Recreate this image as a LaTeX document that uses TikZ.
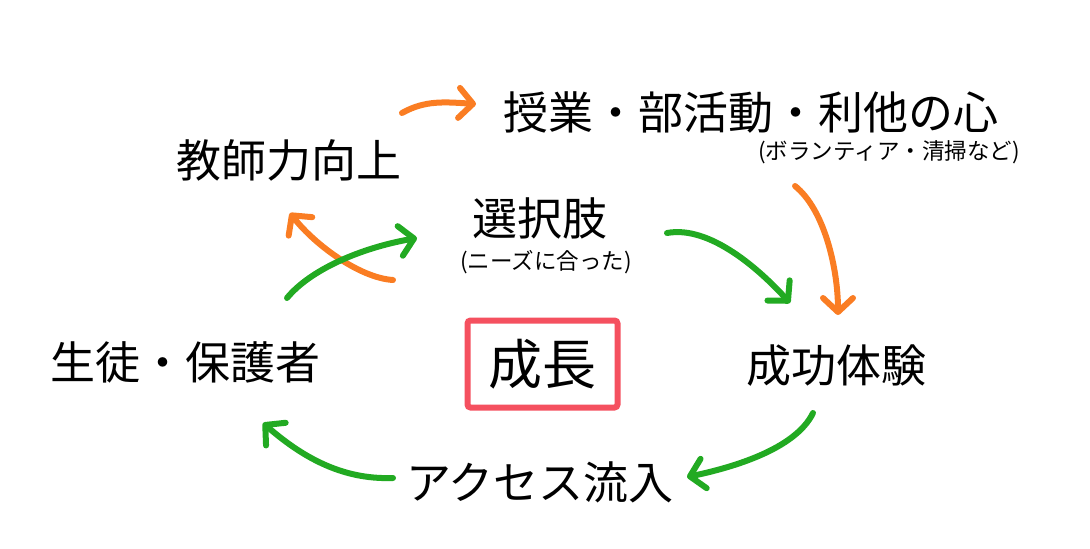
\documentclass[tikz,border=0pt]{standalone}
\usepackage{fontspec}
\newfontfamily\jp{Noto Sans CJK JP}
\usetikzlibrary{arrows.meta}
\definecolor{orng}{RGB}{250,125,35}
\definecolor{grn}{RGB}{34,170,34}
\definecolor{boxred}{RGB}{245,80,95}
\begin{document}
\begin{tikzpicture}[x=1pt,y=-1pt,
  lbl/.style={inner sep=0pt,font=\jp\fontsize{45}{50}\selectfont},
  sub/.style={inner sep=0pt,font=\jp\fontsize{22.5}{26}\selectfont},
  arr/.style={line width=6pt,line cap=round,line join=round,-{Straight Barb[length=14pt,width=30pt,round]}},
  oa/.style={arr,draw=orng},
  ga/.style={arr,draw=grn}]
\useasboundingbox (0,0) rectangle (1090,549);
\node[lbl] (kyoshi) at (289,160) {教師力向上};
\node[lbl] (jugyo) at (751,112) {授業・部活動・利他の心};
\node[sub] (vol) at (889,152) {(ボランティア・清掃など)};
\node[lbl] (sentaku) at (540,218) {選択肢};
\node[sub] (needs) at (546,262) {(ニーズに合った)};
\node[lbl] (seito) at (185,362) {生徒・保護者};
\node[inner sep=0pt,font=\jp\fontsize{54}{60}\selectfont] (seicho) at (542,364) {成長};
\node[draw=boxred,line width=6pt,rounded corners=3pt,minimum width=150pt,minimum height=87pt] (box) at (542.5,364) {};
\node[lbl] (seiko) at (836,366) {成功体験};
\node[lbl] (access) at (540,482) {アクセス流入};
% arrow end points
\coordinate (a1s) at (402,113); \coordinate (a1e) at (476,104);
\coordinate (a2s) at (393,280); \coordinate (a2e) at (290,213);
\coordinate (a3s) at (287,298); \coordinate (a3e) at (417,238);
\coordinate (a4s) at (667,233); \coordinate (a4e) at (790,303);
\coordinate (a5s) at (795,186); \coordinate (a5e) at (838,315);
\coordinate (a6s) at (813,413); \coordinate (a6e) at (687,477);
\coordinate (a7s) at (393,478); \coordinate (a7e) at (263,423);
\draw[oa] (a1s) .. controls (425,100) and (445,102) .. (a1e);
\draw[oa] (a2s) .. controls (360,278) and (315,245) .. (a2e);
\draw[ga] (a3s) .. controls (310,270) and (360,248) .. (a3e);
\draw[ga] (a4s) .. controls (710,225) and (760,270) .. (a4e);
\draw[oa] (a5s) .. controls (825,210) and (838,270) .. (a5e);
\draw[ga] (a6s) .. controls (795,450) and (730,468) .. (a6e);
\draw[ga] (a7s) .. controls (340,480) and (300,455) .. (a7e);
\end{tikzpicture}
\end{document}
